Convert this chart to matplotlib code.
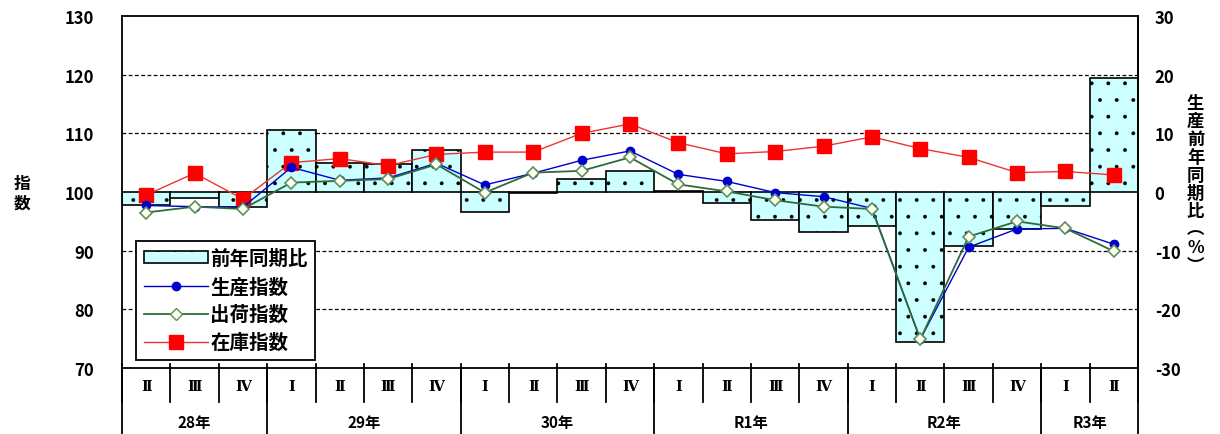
import numpy as np
import matplotlib.pyplot as plt
from matplotlib.patches import Patch
from matplotlib.lines import Line2D

plt.rcParams['font.family'] = ['Noto Sans CJK JP', 'DejaVu Sans']
plt.rcParams['axes.unicode_minus'] = False
plt.rcParams['hatch.linewidth'] = 0.3

# quarters 28年 II .. R3年 II
quarters = ['Ⅱ', 'Ⅲ', 'Ⅳ',
            'Ⅰ', 'Ⅱ', 'Ⅲ', 'Ⅳ',
            'Ⅰ', 'Ⅱ', 'Ⅲ', 'Ⅳ',
            'Ⅰ', 'Ⅱ', 'Ⅲ', 'Ⅳ',
            'Ⅰ', 'Ⅱ', 'Ⅲ', 'Ⅳ',
            'Ⅰ', 'Ⅱ']
years = ['28年', '29年', '30年', 'R1年', 'R2年', 'R3年']
year_len = [3, 4, 4, 4, 4, 2]

yoy = [-2.2, -1.1, -2.5,
       10.5, 5.0, 4.7, 7.2,
       -3.4, -0.2, 2.2, 3.6,
       0.2, -1.8, -4.8, -6.8,
       -5.8, -25.5, -9.2, -6.3,
       -2.4, 19.4]
production = [97.7, 97.5, 97.4,
              104.2, 102.0, 102.4, 104.9,
              101.2, 103.2, 105.4, 107.0,
              103.0, 101.8, 99.9, 99.2,
              97.2, 74.9, 90.6, 93.7,
              93.8, 91.1]
shipments = [96.5, 97.5, 97.1,
             101.6, 101.9, 102.2, 104.7,
             99.9, 103.3, 103.6, 105.9,
             101.3, 100.1, 98.6, 97.5,
             97.1, 74.9, 92.4, 95.0,
             93.8, 89.9]
inventory = [99.5, 103.2, 98.8,
             105.0, 105.7, 104.5, 106.4,
             106.8, 106.8, 110.0, 111.6,
             108.4, 106.5, 106.9, 107.8,
             109.4, 107.4, 105.9, 103.3,
             103.5, 102.9]

x = np.arange(len(quarters))

fig = plt.figure(figsize=(12.2, 4.35), dpi=100)
ax = fig.add_axes([0.1, 0.1517, 0.8328, 0.8093])

ax.bar(x, yoy, width=1.0, bottom=100, color='#ccffff', edgecolor='black',
       linewidth=1.2, hatch='.', zorder=2)
ax.plot(x, production, color='#0000cc', lw=1, marker='o', ms=6,
        mfc='#0000cc', mec='#0000cc', zorder=4)
ax.plot(x, shipments, color='#2e6b3a', lw=1.3, marker='D', ms=6,
        mfc='#fffff0', mec='#5f8f5f', mew=1.2, zorder=5)
ax.plot(x, inventory, color='#ee3333', lw=1, marker='s', ms=10,
        mfc='#ff0000', mec='#ff0000', zorder=3)

ax.set_xlim(-0.5, len(quarters) - 0.5)
ax.set_ylim(70, 130)
ax.set_yticks(np.arange(70, 131, 10))
for g in [80, 90, 110, 120]:
    ax.axhline(g, color='black', lw=0.9, ls=(0, (3, 2)), zorder=1)
ax.set_xticks([])
ax.tick_params(axis='y', length=0, pad=20, labelsize=12)
for lab in ax.get_yticklabels():
    lab.set_fontweight('bold')
for s in ax.spines.values():
    s.set_linewidth(1.3)

sec = ax.secondary_yaxis('right', functions=(lambda v: v - 100, lambda v: v + 100))
sec.set_yticks(np.arange(-30, 31, 10))
sec.tick_params(length=0, pad=12, labelsize=12)
for lab in sec.get_yticklabels():
    lab.set_fontweight('bold')
sec.spines['right'].set_linewidth(1.3)

# category table under the plot
trans = ax.get_xaxis_transform()
for i, q in enumerate(quarters):
    ax.text(i, -0.05, q, transform=trans, ha='center', va='center',
            fontsize=10.5, family=['DejaVu Serif'], fontweight='bold')
for b in np.arange(-0.5, len(quarters), 1.0):
    ax.plot([b, b], [0.011, -0.097], transform=trans, color='black',
            lw=1.3, clip_on=False)
start = -0.5
for yl, n in zip(years, year_len):
    ax.text(start + n / 2, -0.152, yl, transform=trans, ha='center',
            va='center', fontsize=11, fontweight='bold')
    ax.plot([start, start], [0, -0.2], transform=trans, color='black',
            lw=1.3, clip_on=False)
    start += n
ax.plot([start, start], [0, -0.2], transform=trans, color='black',
        lw=1.3, clip_on=False)

fig.text(0.018, 0.555, '指\n数', fontsize=12, ha='center', va='center',
         linespacing=1.1, fontweight='bold')
fig.text(0.98, 0.575, '\n'.join('生産前年同期比︵%︶'), fontsize=12.5,
         ha='center', va='center', linespacing=1.0, fontweight='bold')

handles = [Patch(facecolor='#ccffff', edgecolor='black', hatch='.', lw=1.2),
           Line2D([], [], color='#0000cc', lw=1, marker='o', ms=6,
                  mfc='#0000cc', mec='#0000cc'),
           Line2D([], [], color='#2e6b3a', lw=1.3, marker='D', ms=6,
                  mfc='#fffff0', mec='#5f8f5f'),
           Line2D([], [], color='#ee3333', lw=1, marker='s', ms=10,
                  mfc='#ff0000', mec='#ff0000')]
labels = ['前年同期比', '生産指数', '出荷指数', '在庫指数']
leg = ax.legend(handles, labels, loc='lower left', bbox_to_anchor=(0.014, 0.023),
                borderaxespad=0, prop={'size': 14, 'weight': 'bold'},
                handlelength=3.3, handleheight=0.6, handletextpad=0.1,
                borderpad=0.4, labelspacing=0.45, fancybox=False,
                framealpha=1, edgecolor='black')
leg.get_frame().set_linewidth(1.3)
leg.set_zorder(6)

fig.savefig('out.png', dpi=100)
